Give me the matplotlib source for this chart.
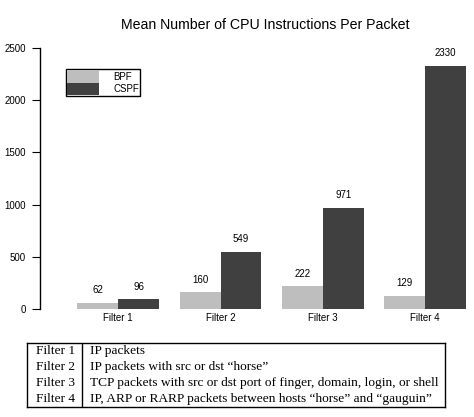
import numpy as np
import matplotlib
matplotlib.use('Agg')
import matplotlib.pyplot as plt

filters = ['Filter 1', 'Filter 2', 'Filter 3', 'Filter 4']
bpf = [62, 160, 222, 129]
cspf = [96, 549, 971, 2330]
descr = ['IP packets',
         'IP packets with src or dst \u201chorse\u201d',
         'TCP packets with src or dst port of finger, domain, login, or shell',
         'IP, ARP or RARP packets between hosts \u201chorse\u201d and \u201cgauguin\u201d']

plt.rcParams['font.family'] = ['Liberation Sans', 'DejaVu Sans']

W, H = 474, 417
fig = plt.figure(figsize=(W / 100, H / 100), dpi=100)

# axes in pixel coordinates
left, right, top, bottom = 40, 466, 48, 309
ax = fig.add_axes([left / W, 1 - bottom / H, (right - left) / W, (bottom - top) / H])

x = np.arange(len(filters))
w = 0.4
ax.bar(x - w / 2, bpf, w, color='#bebebe', label='BPF')
ax.bar(x + w / 2, cspf, w, color='#404040', label='CSPF')
for xi, v in zip(x - w / 2, bpf):
    ax.text(xi, v + 70, str(v), ha='center', va='bottom', fontsize=7, clip_on=False)
for xi, v in zip(x + w / 2, cspf):
    ax.text(xi, v + 70, str(v), ha='center', va='bottom', fontsize=7, clip_on=False)

ax.set_xlim(-0.765, 3.4)
ax.set_ylim(0, 2500)
ax.set_yticks([0, 500, 1000, 1500, 2000, 2500])
ax.set_xticks(x)
ax.set_xticklabels(filters)
ax.tick_params(axis='x', length=0, labelsize=7, pad=3)
ax.tick_params(axis='y', length=6, labelsize=7, pad=4)
for s in ['top', 'right', 'bottom']:
    ax.spines[s].set_visible(False)
ax.spines['left'].set_linewidth(1)

ax.set_title('Mean Number of CPU Instructions Per Packet', fontsize=10.2, pad=14, x=0.529)

ax.legend(loc='upper left', bbox_to_anchor=((66 - left) / (right - left), 1 - (69 - top) / (bottom - top)),
          fontsize=7, frameon=True, fancybox=False, edgecolor='black', borderpad=0.15,
          labelspacing=0, handlelength=3.2, handleheight=1.55, handletextpad=1.5,
          borderaxespad=0, framealpha=1)

# table below the chart
t0, t1, l0, l1, div = 343, 407, 27, 445, 82
tax = fig.add_axes([l0 / W, 1 - t1 / H, (l1 - l0) / W, (t1 - t0) / H])
tax.set_xlim(l0, l1)
tax.set_ylim(t1, t0)
tax.set_xticks([])
tax.set_yticks([])
for s in tax.spines.values():
    s.set_linewidth(1)
tax.plot([div, div], [t0, t1], color='black', lw=1)
for i, (f, d) in enumerate(zip(filters, descr)):
    y = t0 + 8 + 16 * i
    tax.text(36, y, f, va='center', ha='left', fontsize=9.6, family='Liberation Serif')
    tax.text(90, y, d, va='center', ha='left', fontsize=9.6, family='Liberation Serif')

fig.savefig('out.png', dpi=100)
